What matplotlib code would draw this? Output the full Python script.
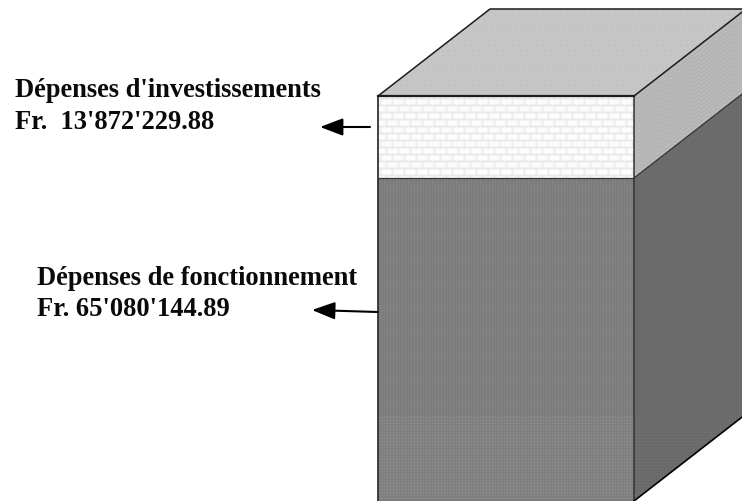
import numpy as np
import matplotlib
matplotlib.use('Agg')
import matplotlib.pyplot as plt
from matplotlib.patches import Polygon

labels = ["Dépenses d'investissements", "Dépenses de fonctionnement"]
amount_labels = ["Fr.  13'872'229.88", "Fr. 65'080'144.89"]
# millions of francs
investissement = 13.87222988
fonctionnement = 65.08014489

plt.rcParams['font.family'] = ['Liberation Serif', 'DejaVu Serif']

W, H = 742, 501
px_per_mio = 82 / investissement
top_val = investissement + fonctionnement
ymax = top_val + 96 / px_per_mio
ymin = top_val - (H - 96) / px_per_mio

fig = plt.figure(figsize=(W / 100, H / 100), dpi=100)
ax = fig.add_axes([0, 0, 1, 1])
ax.set_xlim(0, W)
ax.set_ylim(ymin, ymax)
ax.axis('off')

x0, x1 = 378, 634
dx = 112
dy = 87 / px_per_mio
split = fonctionnement
# the block is cut by the lower edge of the picture
bottom = ymin


def soft(a):
    # small blur, the picture is a rescaled bitmap
    k = np.array([1, 2, 1]) / 4
    a = np.apply_along_axis(lambda r: np.convolve(np.pad(r, 1, mode='edge'), k, 'valid'), 0, a)
    a = np.apply_along_axis(lambda r: np.convolve(np.pad(r, 1, mode='edge'), k, 'valid'), 1, a)
    return a


yy, xx = np.mgrid[0:H, 0:W]

brick = np.full((H, W), 252.0)
brick[(yy - 98) % 7 == 0] = 215
odd = ((yy - 98) // 7) % 2
brick[((xx - 380 + 6 * odd) % 12 == 0)] = 222
brick = soft(brick)

front = np.full((H, W), 116.0)
front[(xx % 3 == 0)] = 158
front[(xx % 3 == 0) & (yy % 3 == 0)] = 128
front[yy >= 416] = 122
front[(yy >= 416) & (xx % 3 == 0) & (yy % 3 == 0)] = 200
front = soft(front)

side = np.full((H, W), 107.0)
side[(yy >= 416)] = 104
side[(yy >= 416) & (xx % 3 == 0) & (yy % 3 == 0)] = 135
side = soft(side)

side_up = np.full((H, W), 190.0)
side_up[(yy + ((xx - 634) * 0.78).astype(int)) % 4 == 0] = 160
side_up = soft(side_up)

roof = np.full((H, W), 198.0)
roof[(yy % 5 == 0) & ((xx + yy) % 6 == 0)] = 172
roof = soft(roof)


def face(tex, pts):
    im = ax.imshow(tex, cmap='gray', vmin=0, vmax=255, extent=(0, W, ymin, ymax),
                   aspect='auto', interpolation='nearest', zorder=1)
    p = Polygon(pts, closed=True, transform=ax.transData, fc='none', ec='none')
    ax.add_patch(p)
    im.set_clip_path(p)


face(front, [(x0, bottom), (x1, bottom), (x1, split), (x0, split)])
face(brick, [(x0, split), (x1, split), (x1, top_val), (x0, top_val)])
face(side, [(x1, bottom), (x1 + dx, bottom + dy), (x1 + dx, split + dy), (x1, split)])
face(side_up, [(x1, split), (x1 + dx, split + dy), (x1 + dx, top_val + dy), (x1, top_val)])
face(roof, [(x0, top_val), (x1, top_val), (x1 + dx, top_val + dy), (x0 + dx, top_val + dy)])
ax.set_xlim(0, W)
ax.set_ylim(ymin, ymax)

edge = '#1c1c1c'
ax.plot([x0, x0], [bottom, top_val], color='#333333', lw=1.3, zorder=3)
ax.plot([x1, x1], [bottom, top_val], color='#333333', lw=1.1, zorder=3)
ax.plot([x0, x1], [top_val, top_val], color=edge, lw=1.6, zorder=3)
ax.plot([x0, x1], [split, split], color='#333333', lw=0.9, zorder=3)
ax.plot([x0, x0 + dx, x1 + dx, x1], [top_val, top_val + dy, top_val + dy, top_val], color=edge, lw=1.1, zorder=3)
ax.plot([x1, x1 + dx], [split, split + dy], color='#333333', lw=0.9, zorder=3)
ax.plot([x1, x1 + dx], [bottom, bottom + dy], color='black', lw=1.2, zorder=3)


def val(py):
    return ymax - py / px_per_mio


ax.text(15, val(97), labels[0], fontsize=19.1, fontweight='bold', va='baseline', color='#0a0a0a')
ax.text(15, val(129), amount_labels[0], fontsize=19.1, fontweight='bold', va='baseline', color='#0a0a0a')
ax.text(37, val(285), labels[1], fontsize=19.1, fontweight='bold', va='baseline', color='#0a0a0a')
ax.text(37, val(316), amount_labels[1], fontsize=19.1, fontweight='bold', va='baseline', color='#0a0a0a')

arrow = dict(arrowstyle='-|>,head_length=1.0,head_width=0.38', color='black', lw=1.5,
             shrinkA=0, shrinkB=0, mutation_scale=14)
ax.annotate('', xy=(320, val(127)), xytext=(370, val(127)), arrowprops=arrow, zorder=4)
ax.annotate('', xy=(312, val(310)), xytext=(378, val(312)), arrowprops=arrow, zorder=4)

fig.savefig('out.png', dpi=100)
